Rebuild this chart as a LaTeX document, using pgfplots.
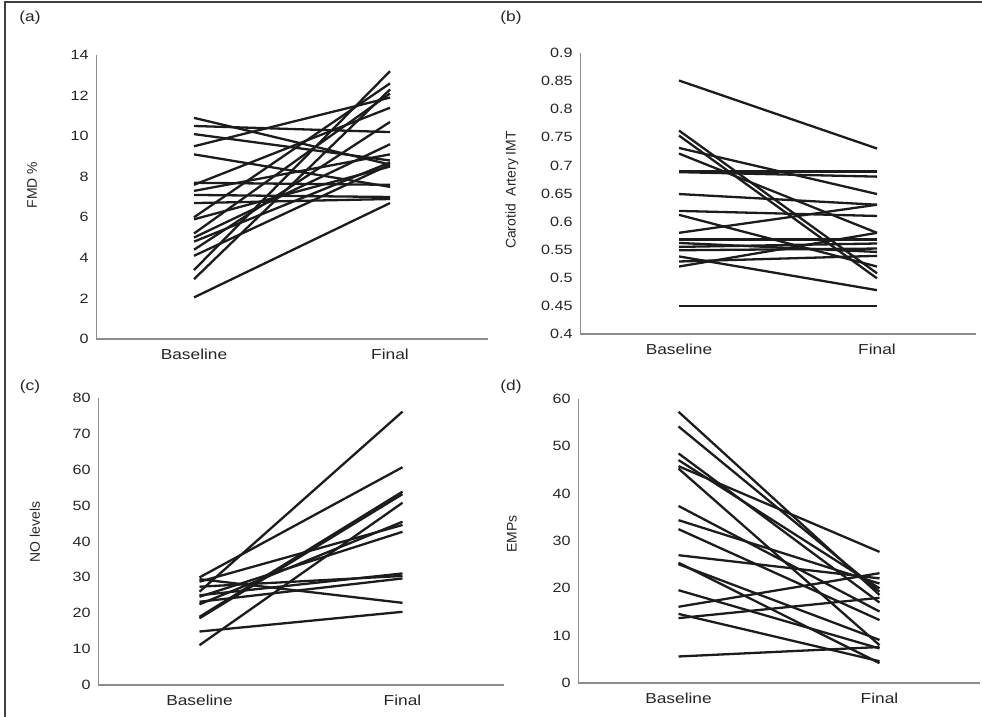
\documentclass[border=0pt]{standalone}
\usepackage{fontspec}
\setmainfont{Liberation Sans}[FakeStretch=1.2]
\newfontfamily\vfont{Liberation Sans}
\usepackage{pgfplots}
\pgfplotsset{compat=1.18}
\definecolor{ln}{HTML}{1C1C1C}
\definecolor{ax}{HTML}{8C8C8C}
\pgfplotsset{
  L/.style={ln, solid, line width=2.3bp, mark=none},
  panel/.style={
    scale only axis,
    xmin=0.5, xmax=2.5,
    xtick={1,2}, xticklabels={Baseline,Final},
    axis x line*=bottom, axis y line*=left,
    separate axis lines,
    x axis line style={-, draw=ax, line width=1.6bp},
    y axis line style={-, draw=ax, line width=0.9bp},
    tick style={draw=none},
    /pgf/number format/assume math mode=true,
    yticklabel style={font=\fontsize{13.5}{15}\selectfont, text=black!85, xshift=-4bp},
    xticklabel style={font=\fontsize{14.5}{16}\selectfont, text=black!85, yshift=-7bp},
    clip=false,
  }
}
\begin{document}
\begin{tikzpicture}[x=1bp,y=1bp]
\path[use as bounding box] (0,0) rectangle (982,717);
\draw[line width=2bp, black!75] (5,0) -- (5,715) -- (982,715);

% (a)
\begin{axis}[panel, at={(96bp,378bp)}, anchor=south west, width=392bp, height=284bp,
  ymin=0, ymax=14, ytick={0,2,...,14}]
\addplot[L] coordinates {(1,10.9) (2,8.6)};
\addplot[L] coordinates {(1,10.5) (2,10.2)};
\addplot[L] coordinates {(1,10.1) (2,8.8)};
\addplot[L] coordinates {(1,9.5) (2,11.9)};
\addplot[L] coordinates {(1,9.1) (2,7.5)};
\addplot[L] coordinates {(1,7.6) (2,11.4)};
\addplot[L] coordinates {(1,7.3) (2,9.1)};
\addplot[L] coordinates {(1,7.1) (2,7.0)};
\addplot[L] coordinates {(1,6.7) (2,6.9)};
\addplot[L] coordinates {(1,6.0) (2,12.6)};
\addplot[L] coordinates {(1,5.9) (2,8.5)};
\addplot[L] coordinates {(1,5.2) (2,12.1)};
\addplot[L] coordinates {(1,5.0) (2,9.6)};
\addplot[L] coordinates {(1,4.8) (2,8.7)};
\addplot[L] coordinates {(1,4.4) (2,10.7)};
\addplot[L] coordinates {(1,4.1) (2,8.6)};
\addplot[L] coordinates {(1,3.4) (2,13.2)};
\addplot[L] coordinates {(1,2.95) (2,12.3)};
\addplot[L] coordinates {(1,2.05) (2,6.7)};
\addplot[L] coordinates {(1,7.7) (2,7.6)};
\end{axis}

% (b)
\begin{axis}[panel, at={(580bp,383bp)}, anchor=south west, width=396bp, height=281bp,
  ymin=0.4, ymax=0.9, ytick={0.4,0.45,...,0.91},
  yticklabel style={/pgf/number format/.cd, fixed, precision=2}]
\addplot[L] coordinates {(1,0.851) (2,0.730)};
\addplot[L] coordinates {(1,0.762) (2,0.508)};
\addplot[L] coordinates {(1,0.753) (2,0.499)};
\addplot[L] coordinates {(1,0.731) (2,0.649)};
\addplot[L] coordinates {(1,0.721) (2,0.580)};
\addplot[L] coordinates {(1,0.689) (2,0.689)};
\addplot[L] coordinates {(1,0.688) (2,0.680)};
\addplot[L] coordinates {(1,0.649) (2,0.630)};
\addplot[L] coordinates {(1,0.619) (2,0.610)};
\addplot[L] coordinates {(1,0.612) (2,0.520)};
\addplot[L] coordinates {(1,0.580) (2,0.630)};
\addplot[L] coordinates {(1,0.568) (2,0.568)};
\addplot[L] coordinates {(1,0.562) (2,0.546)};
\addplot[L] coordinates {(1,0.555) (2,0.561)};
\addplot[L] coordinates {(1,0.549) (2,0.552)};
\addplot[L] coordinates {(1,0.538) (2,0.478)};
\addplot[L] coordinates {(1,0.529) (2,0.539)};
\addplot[L] coordinates {(1,0.520) (2,0.580)};
\addplot[L] coordinates {(1,0.450) (2,0.450)};
\end{axis}

% (c)
\begin{axis}[panel, at={(98bp,32bp)}, anchor=south west, width=406bp, height=287bp,
  ymin=0, ymax=80, ytick={0,10,...,80}]
\addplot[L] coordinates {(1,30.0) (2,60.7)};
\addplot[L] coordinates {(1,29.5) (2,22.9)};
\addplot[L] coordinates {(1,28.8) (2,44.6)};
\addplot[L] coordinates {(1,27.4) (2,30.4)};
\addplot[L] coordinates {(1,26.0) (2,76.2)};
\addplot[L] coordinates {(1,24.6) (2,42.7)};
\addplot[L] coordinates {(1,23.2) (2,29.7)};
\addplot[L] coordinates {(1,22.5) (2,45.5)};
\addplot[L] coordinates {(1,25.0) (2,31.1)};
\addplot[L] coordinates {(1,19.0) (2,53.9)};
\addplot[L] coordinates {(1,18.6) (2,53.2)};
\addplot[L] coordinates {(1,14.9) (2,20.4)};
\addplot[L] coordinates {(1,11.1) (2,50.8)};
\end{axis}

% (d)
\begin{axis}[panel, at={(578bp,34bp)}, anchor=south west, width=402bp, height=284bp,
  ymin=0, ymax=60, ytick={0,10,...,60}]
\addplot[L] coordinates {(1,57.3) (2,18.6)};
\addplot[L] coordinates {(1,54.2) (2,19.3)};
\addplot[L] coordinates {(1,48.5) (2,17.0)};
\addplot[L] coordinates {(1,47.1) (2,20.0)};
\addplot[L] coordinates {(1,45.8) (2,27.7)};
\addplot[L] coordinates {(1,45.3) (2,8.0)};
\addplot[L] coordinates {(1,37.4) (2,15.1)};
\addplot[L] coordinates {(1,34.4) (2,21.0)};
\addplot[L] coordinates {(1,32.5) (2,13.3)};
\addplot[L] coordinates {(1,27.0) (2,22.1)};
\addplot[L] coordinates {(1,25.4) (2,4.2)};
\addplot[L] coordinates {(1,25.1) (2,9.1)};
\addplot[L] coordinates {(1,19.6) (2,7.3)};
\addplot[L] coordinates {(1,16.1) (2,23.2)};
\addplot[L] coordinates {(1,14.6) (2,4.6)};
\addplot[L] coordinates {(1,13.7) (2,18.0)};
\addplot[L] coordinates {(1,5.6) (2,7.6)};
\end{axis}

% panel labels
\node[font=\fontsize{14.5}{16}\selectfont, text=black!85] at (30,699) {(a)};
\node[font=\fontsize{14.5}{16}\selectfont, text=black!85] at (511,699) {(b)};
\node[font=\fontsize{14.5}{16}\selectfont, text=black!85] at (30,330) {(c)};
\node[font=\fontsize{14.5}{16}\selectfont, text=black!85] at (511,330) {(d)};
% y labels
\node[rotate=90, font=\vfont\fontsize{14}{16}\selectfont, text=black!85] at (32,532) {FMD \%};
\node[rotate=90, font=\vfont\fontsize{14}{16}\selectfont, text=black!85] at (512,527) {Carotid\ \ Artery IMT};
\node[rotate=90, font=\vfont\fontsize{14}{16}\selectfont, text=black!85] at (35,185) {NO levels};
\node[rotate=90, font=\vfont\fontsize{14}{16}\selectfont, text=black!85] at (512,183) {EMPs};
\end{tikzpicture}
\end{document}
